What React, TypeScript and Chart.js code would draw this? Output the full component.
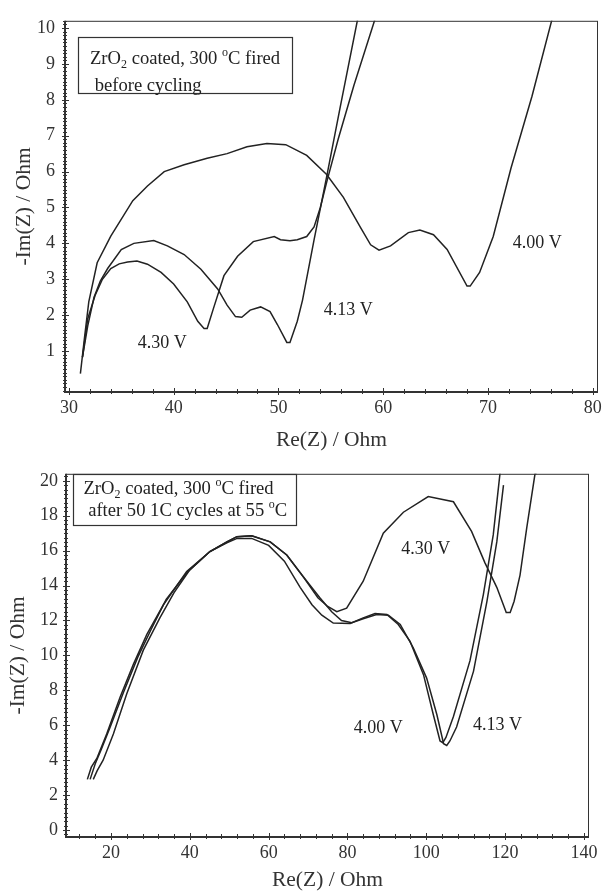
import React, { useEffect, useRef } from 'react';
import { Chart, registerables } from 'chart.js';

Chart.register(...registerables);

const FONT = "'Liberation Serif', 'Times New Roman', serif";
const INK = '#222';

// ---------- Top panel: before cycling ----------
const topXTicks = [30, 40, 50, 60, 70, 80];
const topYTicks = [1, 2, 3, 4, 5, 6, 7, 8, 9, 10];

const top400: [number, number][] = [
  [31.1, 0.37], [31.5, 1.4], [31.9, 2.37], [32.7, 3.46], [34.0, 4.2], [36.1, 5.19], [37.5, 5.6],
  [39.1, 6.0], [41.0, 6.19], [43.2, 6.37], [45.1, 6.5], [47.0, 6.69], [48.9, 6.78], [50.7, 6.75],
  [52.7, 6.45], [54.6, 5.92], [56.2, 5.28], [57.8, 4.46], [58.8, 3.96], [59.6, 3.81], [60.7, 3.93],
  [62.4, 4.3], [63.5, 4.37], [64.8, 4.24], [66.1, 3.83], [68.0, 2.81], [68.3, 2.81], [69.2, 3.19],
  [70.5, 4.19], [72.2, 6.1], [74.2, 8.1], [76.1, 10.23], [76.3, 10.5],
];
const top413: [number, number][] = [
  [31.3, 0.83], [31.8, 1.7], [32.4, 2.5], [33.0, 2.95], [33.7, 3.3], [35.0, 3.83], [36.2, 4.0],
  [38.1, 4.08], [39.4, 3.93], [41.0, 3.69], [42.6, 3.28], [44.2, 2.73], [45.1, 2.28], [45.9, 1.96],
  [46.5, 1.94], [47.3, 2.14], [48.3, 2.23], [49.2, 2.1], [49.9, 1.74], [50.8, 1.24], [51.1, 1.24],
  [51.8, 1.83], [52.3, 2.42], [53.4, 4.1], [54.6, 5.85], [55.9, 7.8], [57.55, 10.23], [57.7, 10.5],
];
const top430: [number, number][] = [
  [31.3, 0.83], [31.8, 1.9], [32.5, 2.55], [33.2, 3.0], [34.0, 3.3], [34.8, 3.43], [35.6, 3.48],
  [36.5, 3.51], [37.5, 3.42], [38.8, 3.19], [40.0, 2.87], [41.3, 2.37], [42.3, 1.83], [42.9, 1.63],
  [43.2, 1.63], [43.8, 2.19], [44.8, 3.1], [46.1, 3.64], [47.6, 4.05], [49.6, 4.19], [50.2, 4.1],
  [51.1, 4.07], [51.8, 4.1], [52.7, 4.19], [53.4, 4.46], [54.0, 5.0], [54.6, 5.7], [55.7, 6.9],
  [57.2, 8.4], [59.2, 10.23], [59.4, 10.5],
];

// ---------- Bottom panel: after 50 cycles ----------
const botXTicks = [20, 40, 60, 80, 100, 120, 140];
const botYTicks = [0, 2, 4, 6, 8, 10, 12, 14, 16, 18, 20];

const bot400: [number, number][] = [
  [14.7, 2.9], [16.0, 3.8], [17.5, 4.6], [19.8, 5.9], [23.2, 7.9], [26.8, 9.9], [30.2, 11.5],
  [34.0, 13.2], [39.5, 14.8], [45.1, 15.95], [49.4, 16.45], [52.0, 16.7], [55.7, 16.7], [60.0, 16.3],
  [64.0, 15.4], [68.0, 13.9], [71.0, 12.9], [73.5, 12.3], [76.4, 11.85], [80.7, 11.83], [84.0, 12.15],
  [87.0, 12.4], [90.0, 12.34], [92.9, 11.77], [95.9, 10.8], [99.3, 8.9], [101.8, 6.6], [103.5, 5.1],
  [104.2, 5.0], [105.0, 5.3], [106.9, 6.5], [111.1, 9.7], [114.5, 13.5], [117.0, 16.9], [118.7, 20.4],
  [118.9, 20.8],
];
const bot413: [number, number][] = [
  [15.5, 2.9], [16.5, 3.4], [18.0, 4.0], [20.6, 5.5], [24.0, 7.8], [28.2, 10.3], [32.4, 12.15],
  [36.0, 13.6], [40.0, 14.9], [45.1, 15.95], [49.4, 16.5], [52.0, 16.8], [55.7, 16.85], [60.4, 16.5],
  [64.6, 15.75], [68.8, 14.5], [73.0, 13.3], [76.0, 12.5], [78.5, 12.0], [81.1, 11.87], [84.0, 12.1],
  [87.4, 12.34], [90.4, 12.3], [93.4, 11.77], [96.7, 10.44], [100.1, 8.7], [102.7, 6.6], [104.4, 4.94],
  [105.2, 4.84], [106.0, 5.1], [107.7, 5.9], [112.0, 9.1], [115.4, 13.1], [117.9, 16.5], [119.6, 19.75],
];
const bot430: [number, number][] = [
  [14.0, 2.9], [15.0, 3.6], [16.4, 4.1], [18.9, 5.5], [22.3, 7.6], [25.7, 9.5], [29.1, 11.2],
  [33.3, 12.9], [39.2, 14.8], [45.1, 15.95], [49.4, 16.5], [51.9, 16.8], [55.7, 16.85], [60.4, 16.5],
  [64.6, 15.75], [68.8, 14.5], [72.5, 13.3], [75.0, 12.8], [77.3, 12.5], [79.8, 12.7], [84.0, 14.25],
  [89.1, 17.0], [94.2, 18.2], [100.5, 19.1], [106.9, 18.8], [111.5, 17.1], [114.9, 15.3], [117.9, 13.9],
  [120.3, 12.45], [121.3, 12.45], [122.3, 13.1], [123.8, 14.6], [125.5, 17.3], [127.6, 20.4], [127.8, 20.8],
];

// ---------- Annotations ----------
type Run = { t: string; sub?: boolean; sup?: boolean };
const topBoxLines: Run[][] = [
  [{ t: 'ZrO' }, { t: '2', sub: true }, { t: ' coated, 300 ' }, { t: 'o', sup: true }, { t: 'C fired' }],
  [{ t: ' before cycling' }],
];
const botBoxLines: Run[][] = [
  [{ t: 'ZrO' }, { t: '2', sub: true }, { t: ' coated, 300 ' }, { t: 'o', sup: true }, { t: 'C fired' }],
  [{ t: ' after 50 1C cycles at 55 ' }, { t: 'o', sup: true }, { t: 'C' }],
];
const topLabels = [
  { text: '4.30 V', x: 38.92, y: 1.22 },
  { text: '4.13 V', x: 56.67, y: 2.15 },
  { text: '4.00 V', x: 74.7, y: 4.0 },
];
const botLabels = [
  { text: '4.30 V', x: 99.9, y: 16.07 },
  { text: '4.00 V', x: 87.8, y: 5.81 },
  { text: '4.13 V', x: 118.1, y: 5.98 },
];

function drawRuns(ctx: CanvasRenderingContext2D, runs: Run[], x: number, y: number, size: number) {
  let cx = x;
  for (const r of runs) {
    const s = r.sub || r.sup ? Math.round(size * 0.65) : size;
    ctx.font = `${s}px ${FONT}`;
    const dy = r.sub ? size * 0.28 : r.sup ? -size * 0.36 : 0;
    ctx.fillText(r.t, cx, y + dy);
    cx += ctx.measureText(r.t).width;
  }
}

interface PanelCfg {
  height: number;
  padTop: number;
  padRight: number;
  yWidth: number;
  xHeight: number;
  xMin: number; xMax: number; yMin: number; yMax: number;
  xTicks: number[]; yTicks: number[];
  xMinor: number; yMinor: number;
  xTickPad: number; yTickPad: number;
  xTitlePad: number; yTitlePad: number;
  series: [number, number][][];
  labels: { text: string; x: number; y: number }[];
  box: { x0: number; x1: number; y0: number; y1: number; textDx: number; lineDy: number[]; lines: Run[][] };
}

const topCfg: PanelCfg = {
  height: 455, padTop: 12, padRight: 15, yWidth: 65, xHeight: 63,
  xMin: 29.63, xMax: 80.5, yMin: -0.14, yMax: 10.2,
  xTicks: topXTicks, yTicks: topYTicks, xMinor: 2, yMinor: 0.1,
  xTickPad: 5, yTickPad: 10, xTitlePad: 3.5, yTitlePad: 14,
  series: [top400, top413, top430],
  labels: topLabels,
  box: { x0: 30.9, x1: 51.33, y0: 9.755, y1: 8.2, textDx: 11.5, lineDy: [22, 49], lines: topBoxLines },
};
const botCfg: PanelCfg = {
  height: 436, padTop: 17, padRight: 24, yWidth: 66, xHeight: 54,
  xMin: 8.58, xMax: 141.3, yMin: -0.4, yMax: 20.4,
  xTicks: botXTicks, yTicks: botYTicks, xMinor: 4, yMinor: 0.25,
  xTickPad: 5, yTickPad: 8, xTitlePad: 0, yTitlePad: 7.5,
  series: [bot400, bot413, bot430],
  labels: botLabels,
  box: { x0: 10.28, x1: 66.95, y0: 20.4, y1: 17.49, textDx: 10, lineDy: [15, 37], lines: botBoxLines },
};

function makeDecor(cfg: PanelCfg) {
  return {
    id: 'decor',
    afterDatasetsDraw(chart: any) {
      const { ctx, chartArea: a } = chart;
      const xs = chart.scales.x;
      const ys = chart.scales.y;
      ctx.save();
      ctx.strokeStyle = '#333';
      ctx.lineWidth = 1;
      ctx.strokeRect(a.left + 0.5, a.top + 0.5, a.right - a.left - 1, a.bottom - a.top - 1);
      ctx.lineWidth = 2;
      ctx.beginPath();
      ctx.moveTo(a.left, a.top);
      ctx.lineTo(a.left, a.bottom);
      ctx.lineTo(a.right, a.bottom);
      ctx.stroke();
      ctx.lineWidth = 1;
      ctx.beginPath();
      const iy0 = Math.ceil(cfg.yMin / cfg.yMinor - 1e-6);
      const iy1 = Math.floor(cfg.yMax / cfg.yMinor + 1e-6);
      for (let i = iy0; i <= iy1; i++) {
        const p = Math.round(ys.getPixelForValue(i * cfg.yMinor)) + 0.5;
        ctx.moveTo(a.left - 2, p);
        ctx.lineTo(a.left + 2, p);
      }
      for (const v of cfg.yTicks) {
        const p = Math.round(ys.getPixelForValue(v)) + 0.5;
        ctx.moveTo(a.left - 3, p);
        ctx.lineTo(a.left + 4, p);
      }
      const ix0 = Math.ceil(cfg.xMin / cfg.xMinor - 1e-6);
      const ix1 = Math.floor(cfg.xMax / cfg.xMinor + 1e-6);
      for (let i = ix0; i <= ix1; i++) {
        const p = Math.round(xs.getPixelForValue(i * cfg.xMinor)) + 0.5;
        ctx.moveTo(p, a.bottom - 3);
        ctx.lineTo(p, a.bottom + 2);
      }
      for (const v of cfg.xTicks) {
        const p = Math.round(xs.getPixelForValue(v)) + 0.5;
        ctx.moveTo(p, a.bottom - 4);
        ctx.lineTo(p, a.bottom + 3);
      }
      ctx.stroke();
      ctx.fillStyle = INK;
      ctx.font = `18px ${FONT}`;
      ctx.textAlign = 'center';
      ctx.textBaseline = 'middle';
      for (const l of cfg.labels) {
        ctx.fillText(l.text, xs.getPixelForValue(l.x), ys.getPixelForValue(l.y));
      }
      const b = cfg.box;
      const bx0 = Math.round(xs.getPixelForValue(b.x0)) + 0.5;
      const bx1 = Math.round(xs.getPixelForValue(b.x1)) + 0.5;
      const by0 = Math.round(ys.getPixelForValue(b.y0)) + 0.5;
      const by1 = Math.round(ys.getPixelForValue(b.y1)) + 0.5;
      ctx.fillStyle = '#fff';
      ctx.fillRect(bx0, by0, bx1 - bx0, by1 - by0);
      ctx.strokeStyle = '#333';
      ctx.lineWidth = 1.2;
      ctx.strokeRect(bx0, by0, bx1 - bx0, by1 - by0);
      ctx.fillStyle = INK;
      ctx.textAlign = 'left';
      b.lines.forEach((runs, i) => drawRuns(ctx, runs, bx0 + b.textDx, by0 + b.lineDy[i], 18.6));
      ctx.restore();
    },
  };
}

function Panel({ cfg }: { cfg: PanelCfg }) {
  const ref = useRef<HTMLCanvasElement>(null);
  useEffect(() => {
    if (!ref.current) return;
    const tickFont = { family: FONT, size: 18 };
    const titleFont = { family: FONT, size: 21.5, lineHeight: 1 };
    const chart = new Chart(ref.current, {
      type: 'scatter',
      data: {
        datasets: cfg.series.map((s) => ({
          data: s.map(([x, y]) => ({ x, y })),
          showLine: true,
          borderColor: INK,
          borderWidth: 1.5,
          pointRadius: 0,
          tension: 0,
          fill: false,
          clip: 0,
        })),
      },
      options: {
        animation: false,
        responsive: false,
        devicePixelRatio: 1,
        layout: { padding: { top: cfg.padTop, right: cfg.padRight, left: 0, bottom: 0 } },
        plugins: { legend: { display: false }, tooltip: { enabled: false } },
        scales: {
          x: {
            type: 'linear',
            position: 'bottom',
            min: cfg.xMin,
            max: cfg.xMax,
            afterBuildTicks: (s: any) => { s.ticks = cfg.xTicks.map((v) => ({ value: v })); },
            afterFit: (s: any) => { s.height = cfg.xHeight; },
            grid: { display: false, drawTicks: false },
            border: { display: false },
            ticks: { font: tickFont, color: '#333', padding: cfg.xTickPad, maxRotation: 0, autoSkip: false },
            title: { display: true, text: 'Re(Z) / Ohm', font: titleFont, color: '#333', padding: { top: 0, bottom: cfg.xTitlePad } },
          },
          y: {
            type: 'linear',
            position: 'left',
            min: cfg.yMin,
            max: cfg.yMax,
            afterBuildTicks: (s: any) => { s.ticks = cfg.yTicks.map((v) => ({ value: v })); },
            afterFit: (s: any) => { s.width = cfg.yWidth; },
            grid: { display: false, drawTicks: false },
            border: { display: false },
            ticks: { font: tickFont, color: '#333', padding: cfg.yTickPad, autoSkip: false },
            title: { display: true, text: '-Im(Z) / Ohm', font: titleFont, color: '#333', padding: { top: cfg.yTitlePad, bottom: 0 } },
          },
        },
      } as any,
      plugins: [makeDecor(cfg)],
    });
    return () => chart.destroy();
  }, [cfg]);
  return <canvas ref={ref} width={613} height={cfg.height} style={{ display: 'block', width: 613, height: cfg.height }} />;
}

export default function App() {
  return (
    <div style={{ position: 'absolute', left: 0, top: 0, width: 613, height: 891, background: '#fff', overflow: 'hidden' }}>
      <Panel cfg={topCfg} />
      <Panel cfg={botCfg} />
    </div>
  );
}
